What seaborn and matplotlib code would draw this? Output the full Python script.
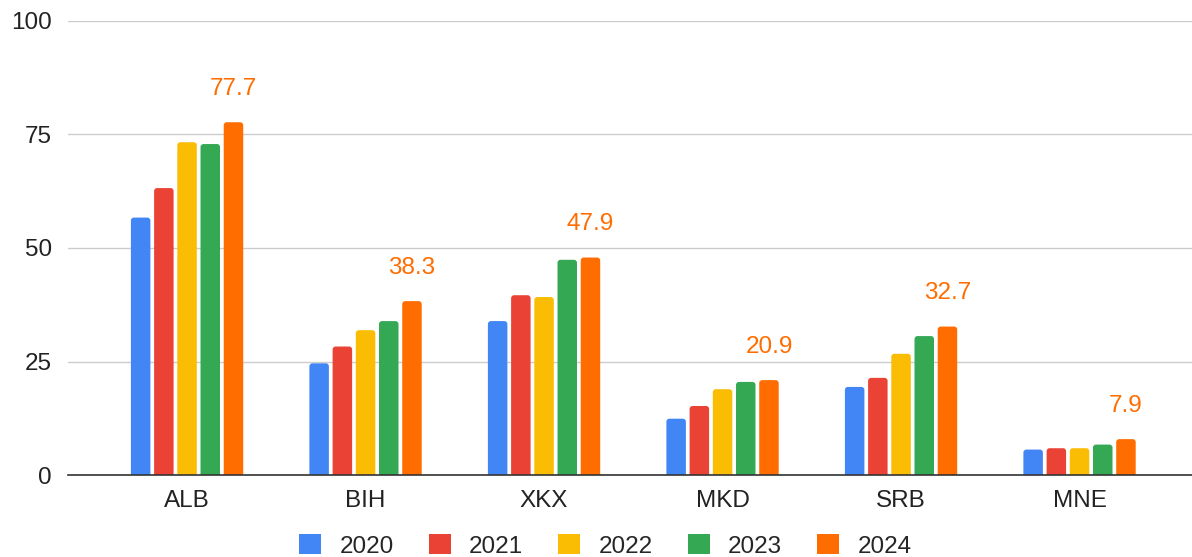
import numpy as np
import pandas as pd
import seaborn as sns
from matplotlib import pyplot as plt
from matplotlib.patches import Patch, FancyBboxPatch

countries = ['ALB', 'BIH', 'XKX', 'MKD', 'SRB', 'MNE']
years = ['2020', '2021', '2022', '2023', '2024']
v2020 = [56.7, 24.6, 33.9, 12.4, 19.4, 5.6]
v2021 = [63.2, 28.3, 39.6, 15.2, 21.4, 5.9]
v2022 = [73.3, 31.9, 39.2, 18.9, 26.7, 5.9]
v2023 = [72.9, 33.9, 47.4, 20.5, 30.6, 6.7]
v2024 = [77.7, 38.3, 47.9, 20.9, 32.7, 7.9]
colors = ['#4285F4', '#EA4335', '#FBBC04', '#34A853', '#FF6D01']

df = pd.DataFrame({
    'country': countries * 5,
    'year': sum([[y] * 6 for y in years], []),
    'value': v2020 + v2021 + v2022 + v2023 + v2024,
})

sns.set_theme(style='white')
plt.rcParams['font.family'] = ['Liberation Sans', 'DejaVu Sans']
fs = 17.5

fig = plt.figure(figsize=(11.92, 5.57), dpi=100)
ax = fig.add_axes([68 / 1192, 82 / 557, 1 - 68 / 1192, 454 / 557])

sns.barplot(data=df, x='country', y='value', hue='year', palette=colors,
            width=0.65, gap=0.16, ax=ax, saturation=1)

ax.set_ylim(0, 100)
ax.set_xlim(-0.667, 5.63)

# rounded tops like the original (bottom pushed below the axis so it stays square)
xpp = (5.63 + 0.667) / (1192 - 68)
ypp = 100 / 454
r = 3 * xpp
aspect = ypp / xpp
for bar in list(ax.patches):
    x, w, h = bar.get_x(), bar.get_width(), bar.get_height()
    fb = FancyBboxPatch((x, -r * aspect), w, h + r * aspect,
                        boxstyle='round,pad=0,rounding_size=%f' % r,
                        mutation_aspect=aspect, facecolor=bar.get_facecolor(),
                        edgecolor='none', zorder=bar.get_zorder())
    ax.add_patch(fb)
    fb.set_clip_path(ax.patch)
    bar.set_visible(False)

ax.bar_label(ax.containers[-1], labels=['%.1f' % v for v in v2024],
             padding=16, color='#FF6D01', fontsize=fs)

ax.set_yticks([0, 25, 50, 75, 100])
ax.yaxis.grid(True, color='#cccccc', linewidth=1)
ax.set_axisbelow(True)
for s in ['left', 'right', 'top']:
    ax.spines[s].set_visible(False)
ax.spines['bottom'].set_color('#333333')
ax.spines['bottom'].set_linewidth(1.2)
ax.spines['bottom'].set_zorder(5)
ax.tick_params(axis='both', length=0, labelsize=fs, colors='#222222')
ax.tick_params(axis='x', pad=11)
ax.tick_params(axis='y', pad=11.5)
ax.set_xlabel('')
ax.set_ylabel('')

ax.get_legend().remove()
handles = [Patch(facecolor=c, edgecolor='none') for c in colors]
fig.legend(handles, years, loc='center', bbox_to_anchor=(0.508, 0.02), ncol=5,
           frameon=False, fontsize=fs, handlelength=0.9, handleheight=0.9,
           columnspacing=1.45, handletextpad=0.75)

fig.savefig('out.png', dpi=100)
